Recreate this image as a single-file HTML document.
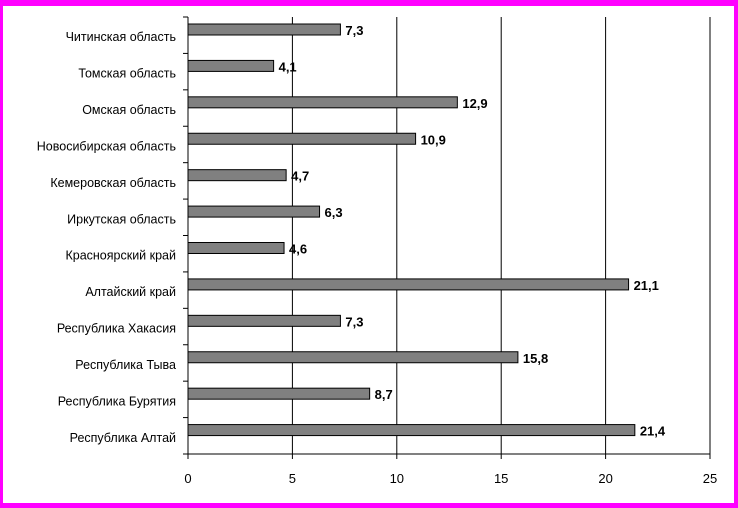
<!DOCTYPE html>
<html><head><meta charset="utf-8"><style>
html,body{margin:0;padding:0;background:#fff}
svg{display:block}
text{font-family:"Liberation Sans",sans-serif}
</style></head><body>
<svg id="chart" width="738" height="508" xmlns="http://www.w3.org/2000/svg">
<rect x="0" y="0" width="738" height="508" fill="#ff00ff"/>
<rect x="3" y="6" width="731" height="497" fill="#fff"/>
<g id="grid"></g><g id="bars"></g><g id="axes"></g>
</svg>
<script>
const categories=["Читинская область","Томская область","Омская область","Новосибирская область","Кемеровская область","Иркутская область","Красноярский край","Алтайский край","Республика Хакасия","Республика Тыва","Республика Бурятия","Республика Алтай"];
const values=[7.3,4.1,12.9,10.9,4.7,6.3,4.6,21.1,7.3,15.8,8.7,21.4];
const valueLabels=["7,3","4,1","12,9","10,9","4,7","6,3","4,6","21,1","7,3","15,8","8,7","21,4"];
const xTicks=[0,5,10,15,20,25];
const NS="http://www.w3.org/2000/svg";
const x0=188,x1=710,yTop=17,yBottom=454,xMax=25;
const xs=v=>x0+(x1-x0)*v/xMax;
const band=(yBottom-yTop)/categories.length;
function mk(t,a,p){const e=document.createElementNS(NS,t);for(const k in a)e.setAttribute(k,a[k]);p.appendChild(e);return e;}
const grid=document.getElementById('grid'),bars=document.getElementById('bars'),axes=document.getElementById('axes');
xTicks.forEach(t=>{
  if(t>0){const g=mk('line',{x1:xs(t),x2:xs(t),y1:yTop,y2:yBottom,stroke:'#000','stroke-width':1},grid);
  
  }
  const tk=mk('line',{x1:xs(t),x2:xs(t),y1:yBottom,y2:yBottom+5,stroke:'#000'},axes);
  
  
  const lb=mk('text',{x:xs(t),y:yBottom+29,'text-anchor':'middle','font-size':13},axes);
  lb.textContent=t;
  
  
});
categories.forEach((c,i)=>{
  const ct=yTop+band*i;
  const b=mk('rect',{x:x0,y:ct+7,width:xs(values[i])-x0,height:11,fill:'#808080',stroke:'#000','stroke-width':1},bars);
  
  
  const v=mk('text',{x:xs(values[i])+5,y:ct+18,'font-size':13,'font-weight':'bold'},bars);
  v.textContent=valueLabels[i];
  
  
  const l=mk('text',{x:176,y:ct+band/2+6,'text-anchor':'end','font-size':12.5},axes);
  l.textContent=c;
  
  
});
for(let i=0;i<=categories.length;i++){
  const y=yTop+band*i;
  const t=mk('line',{x1:x0-5,x2:x0,y1:y,y2:y,stroke:'#000'},axes);
  
  
}
const ya=mk('line',{x1:x0,x2:x0,y1:yTop,y2:yBottom,stroke:'#000'},axes);


const xa=mk('line',{x1:x0,x2:x1,y1:yBottom,y2:yBottom,stroke:'#000'},axes);


</script>
</body></html>
